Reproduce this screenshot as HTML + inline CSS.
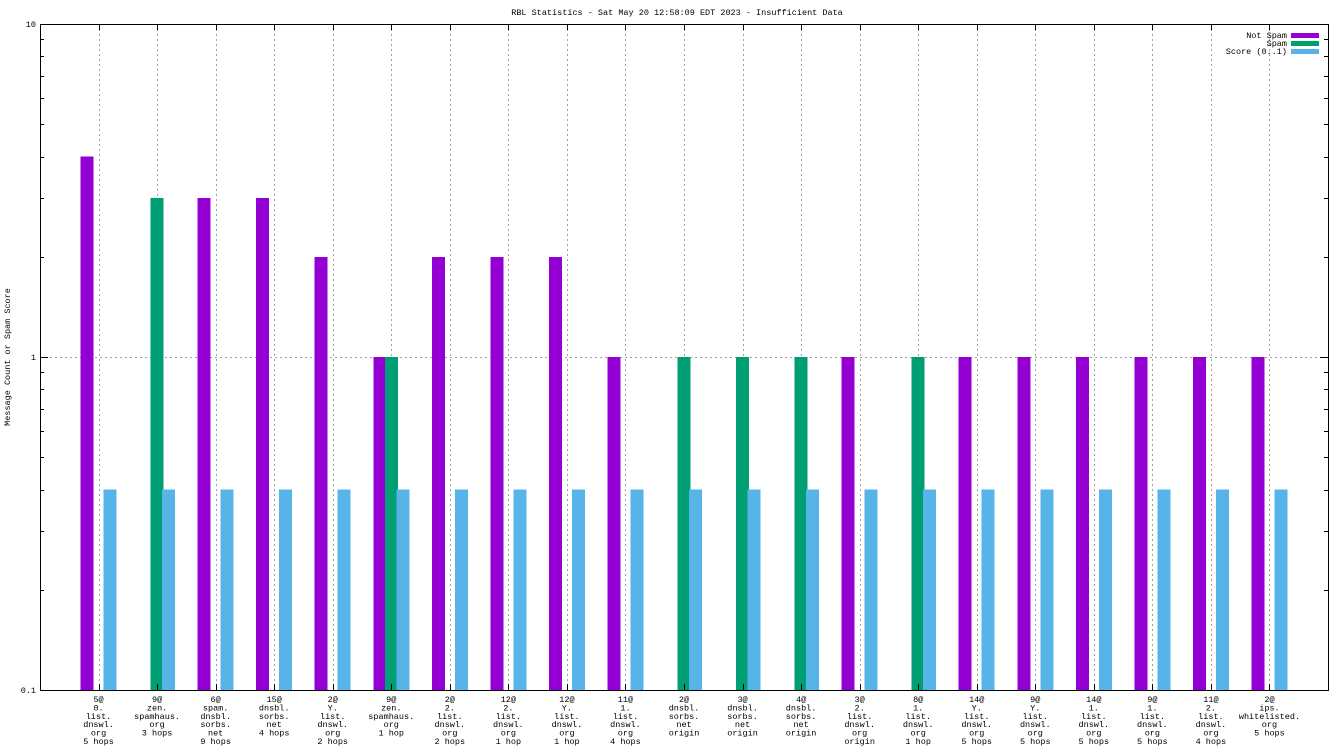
<!DOCTYPE html>
<html><head><meta charset="utf-8"><style>
body{margin:0;background:#fff}
svg{display:block;font-family:"Liberation Mono","DejaVu Sans Mono",monospace}
text{font-size:8.5px;fill:#000}
line,rect{shape-rendering:crispEdges}
</style></head><body>
<svg id="chart" width="1344" height="756" xmlns="http://www.w3.org/2000/svg">
<text x="677" y="15" text-anchor="middle">RBL Statistics - Sat May 20 12:58:09 EDT 2023 - Insufficient Data</text>
<text transform="translate(10,357) rotate(-90)" text-anchor="middle">Message Count or Spam Score</text>
<g id="grid"></g><g id="bars"></g><g id="axes"></g>
<g>
<text x="1287" y="38" text-anchor="end">Not Spam</text><rect x="1291" y="33" width="28" height="5" fill="#9400d3"/>
<text x="1287" y="46" text-anchor="end">Spam</text><rect x="1291" y="41" width="28" height="5" fill="#009e73"/>
<text x="1287" y="54" text-anchor="end">Score (0..1)</text><rect x="1291" y="49" width="28" height="5" fill="#56b4e9"/>
</g>
</svg>
<script>
const categories=[["5@","0.","list.","dnswl.","org","5 hops"],["9@","zen.","spamhaus.","org","3 hops"],["6@","spam.","dnsbl.","sorbs.","net","9 hops"],["15@","dnsbl.","sorbs.","net","4 hops"],["2@","Y.","list.","dnswl.","org","2 hops"],["9@","zen.","spamhaus.","org","1 hop"],["2@","2.","list.","dnswl.","org","2 hops"],["12@","2.","list.","dnswl.","org","1 hop"],["12@","Y.","list.","dnswl.","org","1 hop"],["11@","1.","list.","dnswl.","org","4 hops"],["2@","dnsbl.","sorbs.","net","origin"],["3@","dnsbl.","sorbs.","net","origin"],["4@","dnsbl.","sorbs.","net","origin"],["3@","2.","list.","dnswl.","org","origin"],["8@","1.","list.","dnswl.","org","1 hop"],["14@","Y.","list.","dnswl.","org","5 hops"],["9@","Y.","list.","dnswl.","org","5 hops"],["14@","1.","list.","dnswl.","org","5 hops"],["9@","1.","list.","dnswl.","org","5 hops"],["11@","2.","list.","dnswl.","org","4 hops"],["2@","ips.","whitelisted.","org","5 hops"]];
const notSpam=[4,0,3,3,2,1,2,2,2,1,0,0,0,1,0,1,1,1,1,1,1];
const spam=[0,3,0,0,0,1,0,0,0,0,1,1,1,0,1,0,0,0,0,0,0];
const score=[0.4,0.4,0.4,0.4,0.4,0.4,0.4,0.4,0.4,0.4,0.4,0.4,0.4,0.4,0.4,0.4,0.4,0.4,0.4,0.4,0.4];
const yTicks=[0.1,1,10];
const yTickLabels=["0.1","1","10"];
const L=40,R=1328,T=24,B=690,NS="http://www.w3.org/2000/svg";
const step=(R-L)/(categories.length+1);
const xs=i=>L+(i+1)*step;
const ys=v=>B-(Math.log10(v)+1)/2*(B-T);
function mk(p,t,a){const e=document.createElementNS(NS,t);for(const k in a)e.setAttribute(k,a[k]);p.appendChild(e);return e;}
const grid=document.getElementById('grid'),bars=document.getElementById('bars'),axes=document.getElementById('axes');
categories.forEach((c,i)=>{
 const gx=Math.round(xs(i))+0.5;
 const g=mk(grid,'line',{x1:gx,x2:gx,y1:T,y2:B,stroke:'#a0a0a0','stroke-dasharray':'2,3','stroke-width':1});
 
 
 const tk=mk(axes,'line',{x1:gx,x2:gx,y1:B,y2:B-6,stroke:'#000'});
 
 
 mk(axes,'line',{x1:gx,x2:gx,y1:T,y2:T+6,stroke:'#000'});
 const t=mk(axes,'text',{x:xs(i),'text-anchor':'middle'});
 
 
 c.forEach((ln,j)=>{const s=mk(t,'tspan',{x:xs(i),y:702+j*8.4});s.textContent=ln;});
 const series=[[notSpam,'#9400d3',-11.5,'bar-not-spam'],[spam,'#009e73',0,'bar-spam'],[score,'#56b4e9',11.5,'bar-score']];
 series.forEach(([arr,col,off,nm])=>{const v=arr[i];if(!(v>0.1))return;
  const r=mk(bars,'rect',{x:xs(i)+off-6.5,y:ys(v),width:13,height:B-ys(v),fill:col});
  
  });
});
yTicks.forEach((v,k)=>{
 const y0=Math.round(ys(v))+0.5;
 if(v===1){const h=mk(grid,'line',{x1:L,x2:R,y1:y0,y2:y0,stroke:'#a0a0a0','stroke-dasharray':'2,3'});
  
  }
 const t=mk(axes,'text',{x:L-4,y:ys(v)+3,'text-anchor':'end'});
 
 
 t.textContent=yTickLabels[k];
 mk(axes,'line',{x1:L,x2:L+8,y1:y0,y2:y0,stroke:'#000'});
 mk(axes,'line',{x1:R,x2:R-8,y1:y0,y2:y0,stroke:'#000'});
 if(v<10)for(let m=2;m<10;m++){const y=Math.round(ys(v*m))+0.5;
  mk(axes,'line',{x1:L,x2:L+4,y1:y,y2:y,stroke:'#000'});
  mk(axes,'line',{x1:R,x2:R-4,y1:y,y2:y,stroke:'#000'});}
});
const fr=mk(axes,'rect',{x:L+0.5,y:T+0.5,width:R-L,height:B-T,fill:'none',stroke:'#000','stroke-width':1});


</script>
</body></html>
